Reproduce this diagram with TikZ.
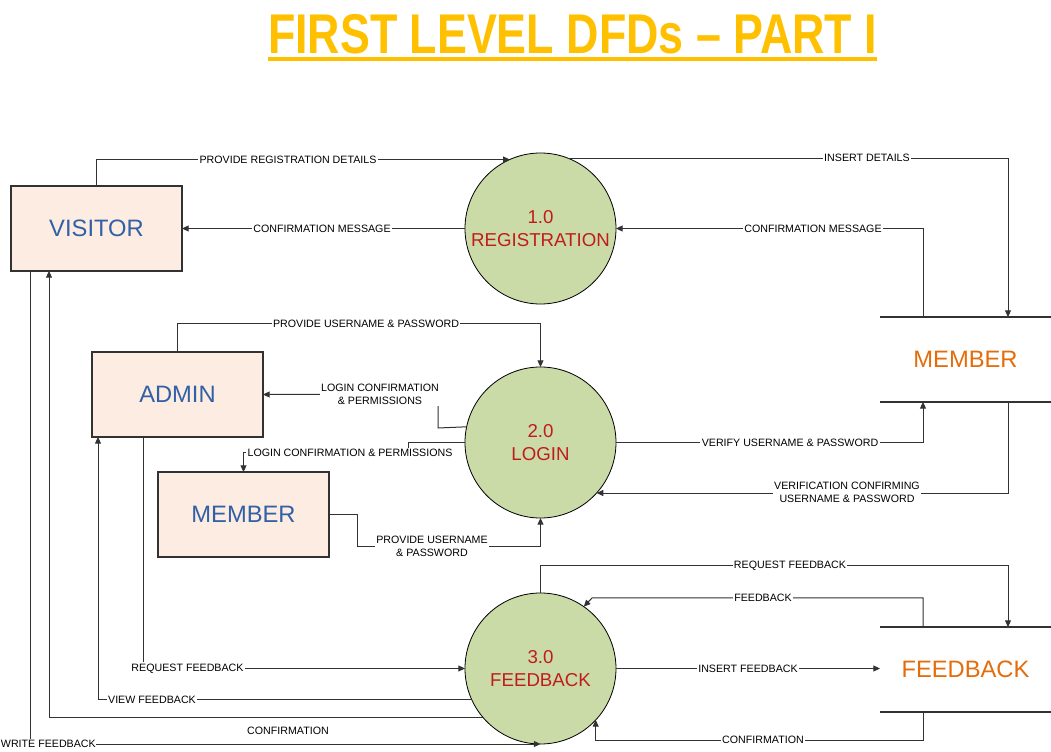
\documentclass[tikz,border=0pt]{standalone}
\usepackage{fontspec}
\setmainfont{Liberation Sans}
\usepackage{graphicx}
\usetikzlibrary{arrows.meta,calc}
\definecolor{titlec}{RGB}{255,192,0}
\definecolor{entfill}{RGB}{252,236,226}
\definecolor{enttext}{RGB}{50,96,166}
\definecolor{procfill}{RGB}{202,219,168}
\definecolor{proctext}{RGB}{192,28,28}
\definecolor{storetext}{RGB}{228,108,10}
\definecolor{linec}{RGB}{50,50,50}
\begin{document}
\begin{tikzpicture}[x=0.75pt,y=-0.75pt,
  entity/.style={draw=linec, line width=0.8pt, fill=entfill, text=enttext,
    minimum width=128.25pt, minimum height=63.75pt, inner sep=0pt, outer sep=0pt,
    font=\fontsize{17.8}{20}\selectfont},
  proc/.style={circle, draw=black, line width=0.6pt, fill=procfill, text=proctext,
    minimum size=113.25pt, inner sep=0pt, outer sep=0pt, align=center,
    font=\fontsize{14}{17}\selectfont},
  store/.style={minimum width=128.25pt, minimum height=63.75pt, inner sep=0pt, outer sep=0pt,
    text=storetext, font=\fontsize{17.8}{20}\selectfont},
  storeline/.style={draw=linec, line width=0.8pt},
  flow/.style={draw=linec, line width=0.75pt, -{Triangle[length=5pt,width=4.5pt]}},
  lbl/.style={fill=white, inner xsep=1pt, inner ysep=1pt, text=black,
    font=\fontsize{8}{9.75}\selectfont}
]
\fill[white] (0,0) rectangle (1051,752);
\useasboundingbox (0,0) rectangle (1051,752);

% title
\node[anchor=base, inner sep=0pt, text=titlec, font=\fontsize{42}{48}\selectfont\bfseries] (title) at (572.5,54)
  {\scalebox{0.8}[1]{FIRST LEVEL DFDs \textendash\ PART I}};
\draw[titlec, line width=3pt] (268,59.5) -- (877,59.5);

% column coordinates
\coordinate (c30) at (30,0);
\coordinate (c49) at (49,0);
\coordinate (c98) at (98,0);
\coordinate (c143) at (143,0);
\coordinate (c923) at (923,0);
\coordinate (c1008) at (1008,0);

% nodes
\node[entity] (visitor) at (96.5,228.5) {VISITOR};
\node[entity] (admin) at (177.5,394.5) {ADMIN};
\node[entity] (memE) at (243.5,514.5) {MEMBER};
\node[proc] (reg) at (540.5,228.5) {1.0\\REGISTRATION};
\node[proc] (login) at (540.5,442.5) {2.0\\LOGIN};
\node[proc] (fb) at (540.5,668.5) {3.0\\FEEDBACK};
\node[store] (memS) at (965.5,359.5) {MEMBER};
\node[store] (fbS) at (965.5,669.5) {FEEDBACK};
\draw[storeline] (memS.north west) -- (memS.north east) (memS.south west) -- (memS.south east);
\draw[storeline] (fbS.north west) -- (fbS.north east) (fbS.south west) -- (fbS.south east);

% connectors
\draw[flow] (visitor.north) |- (reg.114.9);
\draw[flow] (reg.west) -- (visitor.east);
\draw[flow] (reg.69) -| (c1008 |- memS.north);
\draw[flow] (c923 |- memS.north) |- (reg.east);
\draw[flow] (admin.north) -- ++(0,-28) -| (login.north);
\draw[flow] (login.168.9) -- (438,428) |- (admin.east);
\draw[flow] (login.west) -- (408,442.5) -- (408,453) -| (memE.north);
\draw[flow] (memE.east) -- (357,514.5) -- (357,547) -| (login.south);
\draw[flow] (login.east) -| (c923 |- memS.south);
\draw[flow] (c1008 |- memS.south) |- (login.-42);
\draw[flow] (c143 |- admin.south) |- (fb.west);
\draw[flow] (fb.204.66) -| (c98 |- admin.south);
\draw[flow] (fb.220) -| (c49 |- visitor.south);
\draw[flow] (c30 |- visitor.south) |- (fb.south);
\draw[flow] (fb.north) -- ++(0,-27) -| (c1008 |- fbS.north);
\draw[flow] (c923 |- fbS.north) |- (592,598) -- (fb.55);
\draw[flow] (fb.east) -- (fb.east -| fbS.west);
\draw[flow] (c923 |- fbS.south) -- ++(0,28) -| (fb.-43.8);

% labels
\node[lbl] at (288,160) {PROVIDE REGISTRATION DETAILS};
\node[lbl] at (322,228.5) {CONFIRMATION MESSAGE};
\node[lbl] at (867,158) {INSERT DETAILS};
\node[lbl] at (813,228.5) {CONFIRMATION MESSAGE};
\node[lbl] at (366,324) {PROVIDE USERNAME \& PASSWORD};
\node[lbl,align=center] at (380,394) {LOGIN CONFIRMATION\\\& PERMISSIONS};
\node[lbl] at (350,453) {LOGIN CONFIRMATION \& PERMISSIONS};
\node[lbl,align=center] at (432,546) {PROVIDE USERNAME\\\& PASSWORD};
\node[lbl] at (790,442.5) {VERIFY USERNAME \& PASSWORD};
\node[lbl,align=center] at (847,492.5) {VERIFICATION CONFIRMING\\USERNAME \& PASSWORD};
\node[lbl] at (187.5,668.5) {REQUEST FEEDBACK};
\node[lbl] at (152,700) {VIEW FEEDBACK};
\node[lbl] at (288,731) {CONFIRMATION};
\node[lbl, anchor=west, inner xsep=0.5pt] at (0,744) {WRITE FEEDBACK};
\node[lbl] at (790,566) {REQUEST FEEDBACK};
\node[lbl] at (763,598) {FEEDBACK};
\node[lbl] at (748,668.5) {INSERT FEEDBACK};
\node[lbl] at (763,740) {CONFIRMATION};
\end{tikzpicture}
\end{document}
